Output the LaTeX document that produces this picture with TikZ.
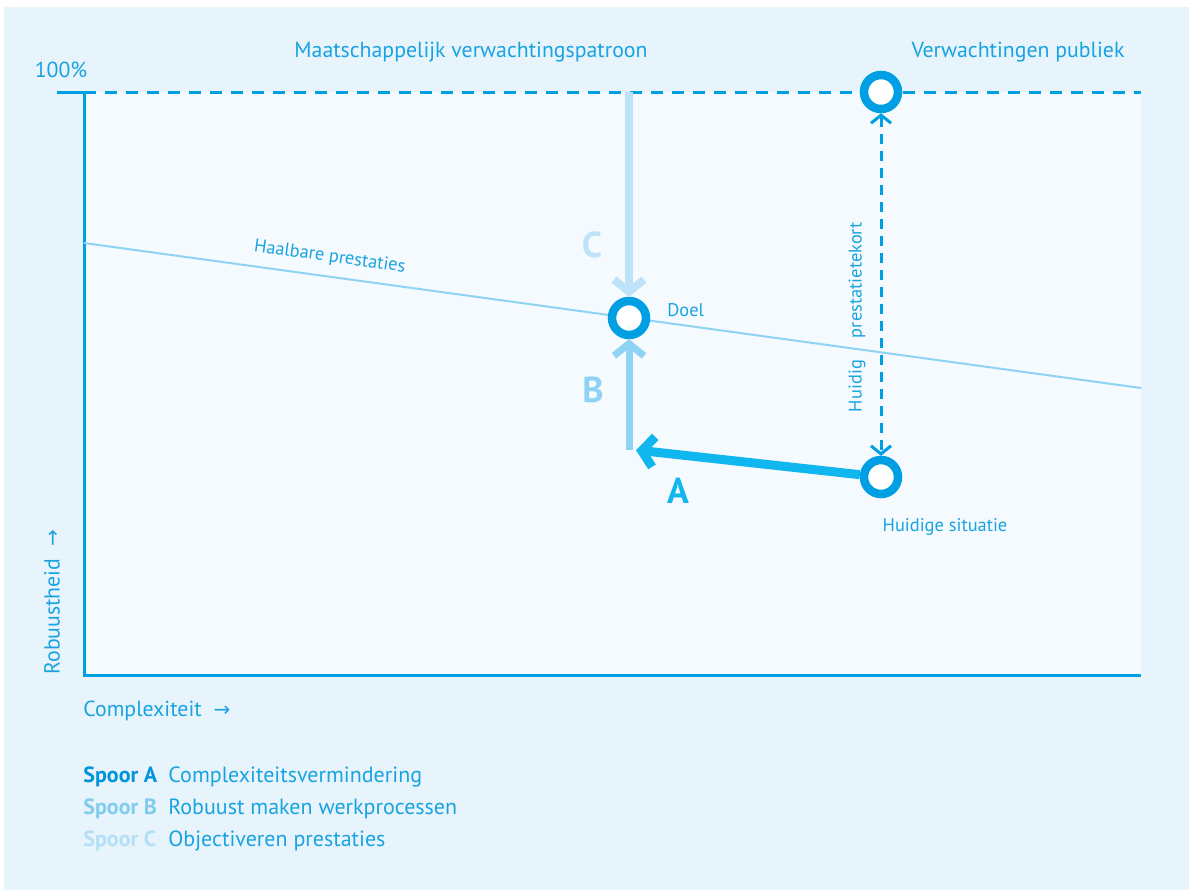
\documentclass[tikz,border=0pt]{standalone}
\usepackage{fontspec}
\setmainfont{PT Sans}
\newfontfamily\pijlfont{DejaVu Sans}
\usetikzlibrary{arrows.meta}
\definecolor{rand}{HTML}{E7F4FC}
\definecolor{vlak}{HTML}{F4FAFE}
\definecolor{as}{HTML}{009FE3}
\definecolor{tekstblauw}{HTML}{19A3E1}
\definecolor{spoorA}{HTML}{10B6EE}
\definecolor{spoorB}{HTML}{8ED2F4}
\definecolor{spoorC}{HTML}{BEE3F8}
\definecolor{legA}{HTML}{0095D8}
\definecolor{legB}{HTML}{80CCF1}
\definecolor{legC}{HTML}{B4DFF6}
\tikzset{
	groot/.style={font=\fontsize{10.9}{12}\selectfont},
	klein/.style={font=\fontsize{9.2}{11}\selectfont, text=tekstblauw},
	legenda/.style={font=\fontsize{11}{13}\selectfont},
	letter/.style={font=\fontsize{18}{20}\selectfont\bfseries},
	ring/.style={circle, draw=as, line width=4.25pt, fill=white, minimum size=17pt, inner sep=0pt},
	spoor/.style={line width=#1, -{Straight Barb[length=6pt,width=15pt]}},
}
\newcommand{\pijl}{{\pijlfont\fontsize{10}{10}\selectfont →}}
\begin{document}
\begin{tikzpicture}[x=0.5pt, y=-0.5pt, text=tekstblauw, inner sep=0pt]
		\useasboundingbox (0,0) rectangle (1189,890);
		\fill[rand] (4,7) rectangle (1189,890);
		\fill[vlak] (84,92) rectangle (1141,675);
		\path 
			(84,92) coordinate (top)
			(1141,92) coordinate (topR)
			(57,92) coordinate (tick)
			(84,675) coordinate (O)
			(1141,675) coordinate (X)
			(84,243) coordinate (H1)
			(1141,388) coordinate (H2)
			(629,450) coordinate (hoek)
			(636,450) coordinate (hoekA)
		;
		\draw[as, line width=1.5pt, dash pattern=on 6pt off 4.5pt] (top)--(topR);
		\draw[as, line width=1.5pt] (tick)--(top)--(O)--(X);
		\draw[spoorB, line width=1pt] (H1)-- node[pos=0.23, above=5pt, sloped, klein] (haalbaar) {Haalbare prestaties} (H2);
		\node[ring] (doel) at (629,318) {};
		\node[ring] (publiek) at (881,92) {};
		\node[ring] (huidig) at (881,477) {};
		\draw[spoorC, spoor=4pt] (doel |- top)--(doel);
		\draw[spoorB, spoor=3.5pt] (hoek)--(doel);
		\draw[spoorA, spoor=4.5pt] (huidig)--(hoekA);
		\draw[as, line width=1.5pt, dash pattern=on 5pt off 3.5pt, {Straight Barb[length=4pt,width=10pt]}-{Straight Barb[length=4pt,width=10pt]}] (publiek)--(huidig);
		\node[letter, text=spoorC] (letterC) at (592,245) {C};
		\node[letter, text=spoorB] (letterB) at (593,390) {B};
		\node[letter, text=spoorA] (letterA) at (678,491) {A};
		\node[groot] (patroon) at (471,52) {Maatschappelijk verwachtingspatroon};
		\node[groot] (verwachting) at (1018,52) {Verwachtingen publiek};
		\node[groot] (procent) at (61,70) {100\%};
		\node[klein, anchor=west] (doeltekst) at (667,310) {Doel};
		\node[klein] (situatie) at (945,527) {Huidige situatie};
		\node[klein, rotate=90] (tekort) at (857,317) {Huidig\hspace{11pt}prestatietekort};
		\node[groot, rotate=90, anchor=west] (robuust) at (52,675) {Robuustheid\hspace{6pt}\pijl};
		\node[groot, anchor=west] (complex) at (83,711) {Complexiteit\hspace{6pt}\pijl};
		\foreach \naam/\uitleg/\kleur [count=\i] in {A/Complexiteitsvermindering/legA, B/Robuust maken werkprocessen/legB, C/Objectiveren prestaties/legC}{
			\node[legenda, anchor=base west, text=\kleur] (spoor\naam) at (83,750+32*\i) {\bfseries Spoor \naam};
			\node[legenda, anchor=base west] (uitleg\naam) at (168,750+32*\i) {\uitleg};
		}
\end{tikzpicture}
\end{document}
